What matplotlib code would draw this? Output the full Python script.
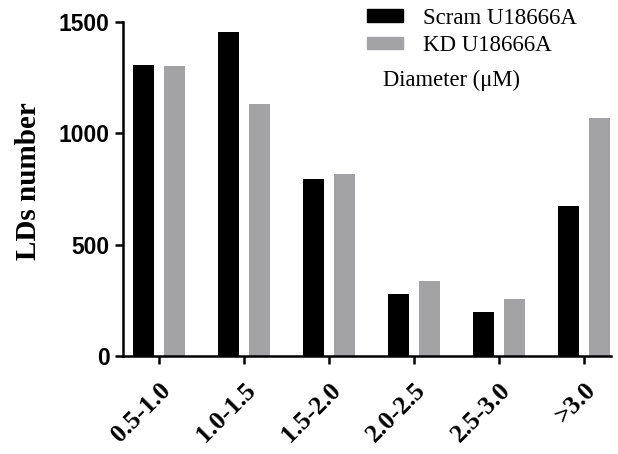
import numpy as np
import matplotlib.pyplot as plt
from matplotlib.patches import Patch

# Data
categories = ["0.5-1.0", "1.0-1.5", "1.5-2.0", "2.0-2.5", "2.5-3.0", ">3.0"]
scram = [1305, 1455, 795, 280, 198, 672]
kd = [1302, 1130, 815, 338, 255, 1070]
series_names = ["Scram U18666A", "KD U18666A"]
yticks = [0, 500, 1000, 1500]

x = np.arange(len(categories))
w = 0.25
off = 0.185
gray = "#a3a3a6"

fig = plt.figure(figsize=(6.18, 4.54), dpi=100)
ax = fig.add_axes([0.199, 0.216, 0.79, 0.736])

ax.bar(x - off, scram, width=w, color="black")
ax.bar(x + off, kd, width=w, color=gray)

ax.set_xlim(-0.424, 5.32)
ax.set_ylim(0, 1500)
ax.set_yticks(yticks)
ax.set_xticks(x)
ax.set_xticklabels(categories, rotation=45, ha="right", rotation_mode="anchor",
                   fontfamily="Liberation Serif", fontweight="bold", fontsize=18.5)
for lab in ax.get_yticklabels():
    lab.set_fontfamily("Liberation Sans")
    lab.set_fontweight("bold")
    lab.set_fontsize(16.5)

ax.spines["top"].set_visible(False)
ax.spines["right"].set_visible(False)
ax.spines["left"].set_linewidth(1.8)
ax.spines["bottom"].set_linewidth(1.8)
ax.tick_params(axis="both", width=1.8, length=6)
ax.tick_params(axis="y", pad=3.5)
ax.tick_params(axis="x", pad=10)

ax.set_ylabel("LDs number", fontfamily="Liberation Serif", fontweight="bold", fontsize=21)
ax.yaxis.set_label_coords(-0.165, 0.524)

handles = [Patch(color="black"), Patch(color=gray)]
leg = fig.legend(handles, series_names, loc="upper left", bbox_to_anchor=(0.5605, 1.028),
                 frameon=False, handlelength=1.57, handleheight=0.48, handletextpad=0.87,
                 labelspacing=0.27, prop={"family": "Liberation Serif", "size": 16.5})

fig.text(0.62, 0.81, "Diameter (μM)", fontfamily="Liberation Serif", fontsize=16.3)

fig.savefig("out.png")
